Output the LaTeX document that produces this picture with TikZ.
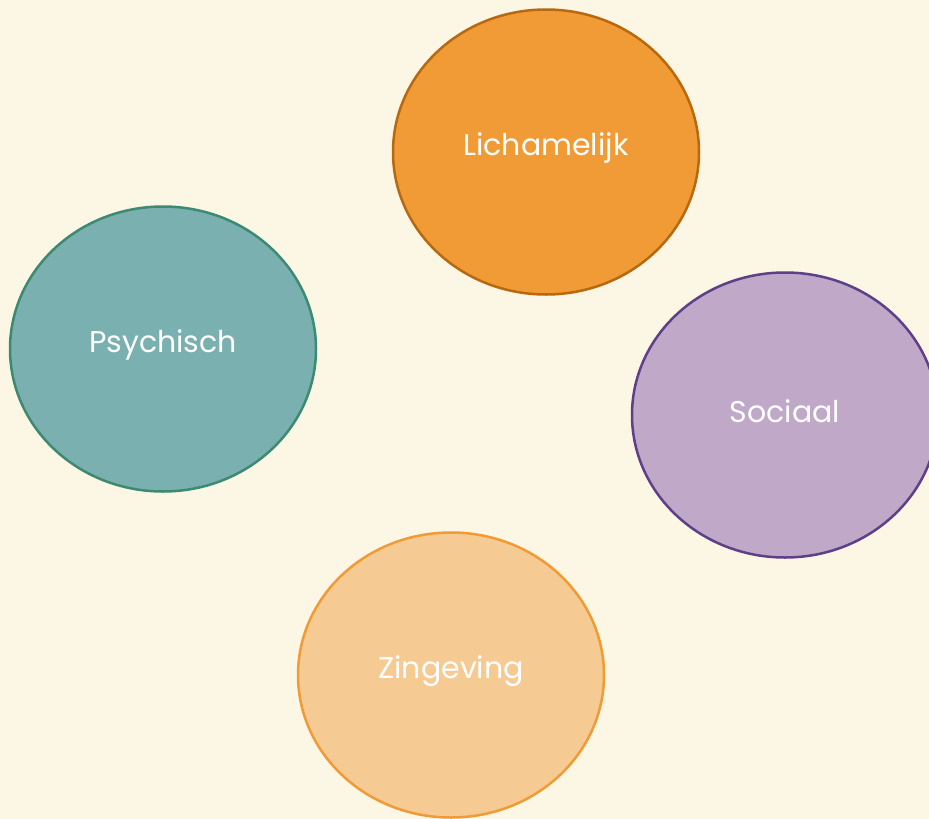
\documentclass[tikz,border=0pt]{standalone}
\usepackage{fontspec}
\setmainfont{Poppins}
\definecolor{bg}{HTML}{FCF6E5}
\definecolor{orfill}{HTML}{F09B36}
\definecolor{ordraw}{HTML}{B8680F}
\definecolor{tlfill}{HTML}{7AB0B0}
\definecolor{tldraw}{HTML}{3D8A72}
\definecolor{pufill}{HTML}{C0A8C8}
\definecolor{pudraw}{HTML}{5E4088}
\definecolor{lofill}{HTML}{F6CA93}
\definecolor{lodraw}{HTML}{F09B36}
\begin{document}
\begin{tikzpicture}[x=1pt,y=-1pt,
  blob/.style={ellipse, minimum width=306pt, minimum height=285pt, line width=2.5pt, inner sep=0pt},
  lbl/.style={text=white, font=\fontsize{30}{34}\selectfont, yshift=4pt}]
\usetikzlibrary{shapes.geometric}
\fill[bg] (0,0) rectangle (929,819);
\useasboundingbox (0,0) rectangle (929,819);
\node[blob, fill=orfill, draw=ordraw] (lich) at (546,152) {};
\node[blob, fill=tlfill, draw=tldraw] (psy) at (163,349) {};
\node[blob, fill=pufill, draw=pudraw] (soc) at (785,415) {};
\node[blob, fill=lofill, draw=lodraw] (zin) at (451,675) {};
\node[lbl] (tlich) at (lich.center) {Lichamelijk};
\node[lbl] (tpsy) at (psy.center) {Psychisch};
\node[lbl] (tsoc) at (soc.center) {Sociaal};
\node[lbl] (tzin) at (zin.center) {Zingeving};
\end{tikzpicture}
\end{document}
